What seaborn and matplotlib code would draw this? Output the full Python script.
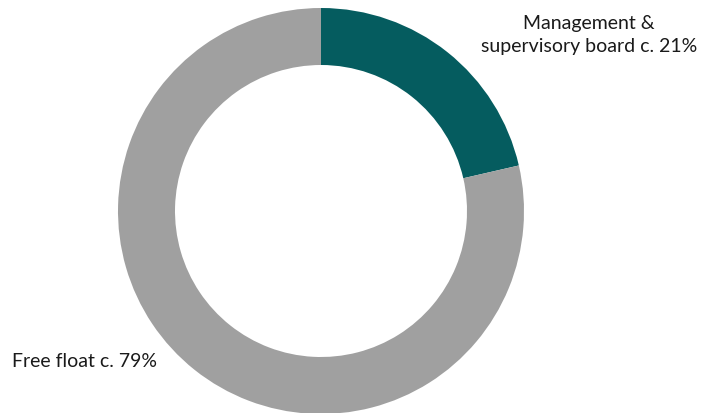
import matplotlib
matplotlib.use("Agg")
import matplotlib.pyplot as plt
import seaborn as sns

labels = ["Management &\nsupervisory board c. 21%", "Free float c. 79%"]
values = [21.4, 78.6]
colors = ["#055C5F", "#A0A0A0"]

sns.set_theme(style="white")
plt.rcParams['font.family'] = ['Lato', 'DejaVu Sans']

fig = plt.figure(figsize=(7.15, 4.14), dpi=100)
ax = fig.add_axes([0, 0, 1, 1])
ax.pie(values, colors=colors, startangle=90, counterclock=False,
       center=(321, 202), radius=203,
       wedgeprops=dict(width=57, linewidth=0))
ax.set_xlim(0, 715)
ax.set_ylim(0, 414)
ax.set_aspect('equal')
ax.axis('off')

ax.text(589, 379, labels[0], ha='center', va='center', fontsize=14,
        color='#1a1a1a', linespacing=1.4)
ax.text(12, 52, labels[1], ha='left', va='center', fontsize=14,
        color='#1a1a1a')

fig.savefig("out.png", dpi=100)
